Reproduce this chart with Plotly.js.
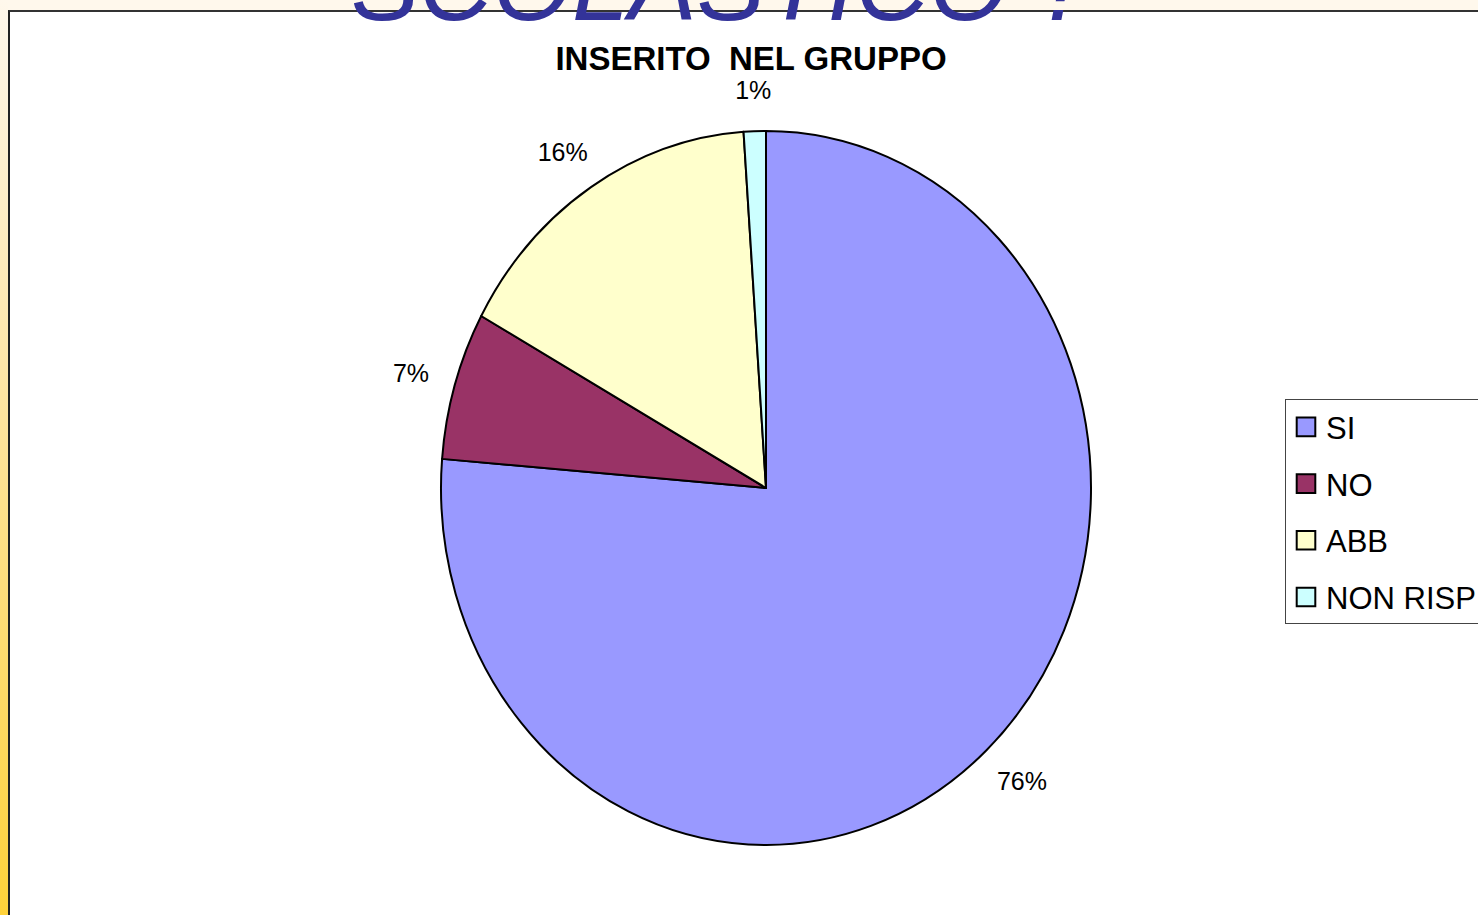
<!DOCTYPE html>
<html>
<head>
<meta charset="utf-8">
<script src="https://cdn.plot.ly/plotly-3.0.1.min.js"></script>
<style>
  html, body { margin:0; padding:0; width:1478px; height:915px; overflow:hidden; background:#fff8ec; }
  #strip { position:absolute; left:0; top:0; width:8px; height:915px;
           background:linear-gradient(to bottom, #fff8ec 0%, #ffe6a8 40%, #ffd23a 100%); }
  #frame { position:absolute; left:8px; top:10px; right:0; bottom:0; background:#ffffff;
           border-left:2px solid #222; border-top:2px solid #333; }
  #chart { position:absolute; left:0; top:0; width:1478px; height:915px; }
</style>
</head>
<body>
<div id="strip"></div>
<div id="frame"></div>
<div id="chart"></div>
<script>
const categories = ['SI', 'NO', 'ABB', 'NON RISP'];
const values = [76.3, 6.7, 15.9, 1.1];
const colors = ['#9999ff', '#993366', '#ffffcc', '#ccffff'];
const chartTitle = 'INSERITO  NEL GRUPPO';
const slideTitle = 'SCOLASTICO ?';

const W = 1478, H = 915;
const cx = 766, cy = 488, R = 357;      // pie centre and vertical radius (px)
const pieAspect = 650 / 714;            // ellipse width / height in the reference
const labelRadius = 1.085;              // outside labels' inner edge, in units of the radius
const legendRowGap = 56.7, legendFirstRow = 29, legendHeight = 225;

const data = [{
  type: 'pie',
  labels: categories,
  values: values,
  sort: false,
  direction: 'clockwise',
  rotation: 0,
  marker: { colors: colors, line: { color: '#000000', width: 2 } },
  textposition: 'outside',
  texttemplate: '%{percent:.0%}',
  textfont: { family: 'Liberation Sans, Arial', size: 25, color: '#000000' },
  hoverinfo: 'label+percent',
  domain: { x: [(cx - R) / W, (cx + R) / W], y: [1 - (cy + R) / H, 1 - (cy - R) / H] }
}];

const layout = {
  width: W, height: H,
  margin: { l: 0, r: 0, t: 0, b: 0, autoexpand: false },
  paper_bgcolor: 'rgba(0,0,0,0)',
  plot_bgcolor: 'rgba(0,0,0,0)',
  showlegend: true,
  legend: {
    x: 1285 / W, xanchor: 'left', y: 1 - 399 / H, yanchor: 'top',
    bordercolor: '#444444', borderwidth: 1, bgcolor: '#ffffff',
    font: { family: 'Liberation Sans, Arial', size: 31, color: '#000000' }
  },
  title: {
    text: '<b>' + chartTitle + '</b>',
    x: 751 / W, xanchor: 'center', xref: 'paper',
    y: 1 - 58 / H, yanchor: 'middle', yref: 'paper',
    font: { family: 'Liberation Sans, Arial', size: 33, color: '#000000' }
  },
  annotations: [{
    text: '<i>' + slideTitle + '</i>',
    xref: 'paper', yref: 'paper',
    x: 722 / W, xanchor: 'center',
    y: 1 - 44 / H, yanchor: 'bottom',
    showarrow: false,
    font: { family: 'Liberation Sans, Arial', size: 102, color: '#333399' }
  }]
};

function unionRect(els) {
  let l = Infinity, t = Infinity, r = -Infinity, b = -Infinity;
  els.forEach(e => { const q = e.getBoundingClientRect();
    l = Math.min(l, q.left); t = Math.min(t, q.top); r = Math.max(r, q.right); b = Math.max(b, q.bottom); });
  return { l, t, r, b };
}
function prependTranslate(el, dx, dy) {
  el.setAttribute('transform', 'translate(' + dx + ',' + dy + ') ' + (el.getAttribute('transform') || ''));
}

Plotly.newPlot('chart', data, layout, { displayModeBar: false, staticPlot: true }).then(function (gd) {
  // squeeze the circular pie into the reference's ellipse
  const paths = Array.from(gd.querySelectorAll('.pielayer path.surface'));
  if (paths.length) {
    const u = unionRect(paths);
    const pcx = (u.l + u.r) / 2, pcy = (u.t + u.b) / 2, pr = (u.b - u.t) / 2;
    paths.forEach(p => {
      p.setAttribute('transform', 'translate(' + pcx + ',0) scale(' + pieAspect + ',1) translate(' + (-pcx) + ',0)');
      p.style.vectorEffect = 'non-scaling-stroke';
    });
    // place each outside label beyond its slice's mid-angle on the ellipse
    const total = values.reduce((a, b) => a + b, 0);
    let cum = 0;
    const mids = values.map(v => { const m = (cum + v / 2) / total * 2 * Math.PI; cum += v; return m; });
    gd.querySelectorAll('.pielayer g.slice').forEach((s, i) => {
      const g = s.querySelector('g.slicetext');
      if (!g) return;
      const q = g.getBoundingClientRect();
      const tx = (q.left + q.right) / 2, ty = (q.top + q.bottom) / 2;
      const w = q.right - q.left, h = q.bottom - q.top;
      const sn = Math.sin(mids[i]), cs = Math.cos(mids[i]);
      const nx = pcx + labelRadius * pr * pieAspect * sn + (w / 2) * sn;
      const ny = pcy - labelRadius * pr * cs - (h / 2) * cs * 0.8;
      prependTranslate(g, nx - tx, ny - ty);
    });
  }
  // legend: wider row spacing and larger swatches, as in the reference
  const leg = gd.querySelector('.legend');
  if (leg) {
    leg.querySelectorAll('[clip-path]').forEach(e => e.removeAttribute('clip-path'));
    const bg = leg.querySelector('rect.bg');
    const top = bg ? bg.getBoundingClientRect().top : 399;
    if (bg) bg.setAttribute('height', legendHeight - 1);
    leg.querySelectorAll('g.traces').forEach((tr, i) => {
      const txt = tr.querySelector('text.legendtext');
      const q = (txt || tr).getBoundingClientRect();
      const cyNow = (q.top + q.bottom) / 2;
      prependTranslate(tr, 0, top + legendFirstRow + i * legendRowGap - cyNow);
      tr.querySelectorAll('path.legendpie').forEach(p => {
        p.setAttribute('transform', (p.getAttribute('transform') || '') + ' scale(1.55)');
        p.style.vectorEffect = 'non-scaling-stroke';
      });
    });
  }
});
</script>
</body>
</html>
